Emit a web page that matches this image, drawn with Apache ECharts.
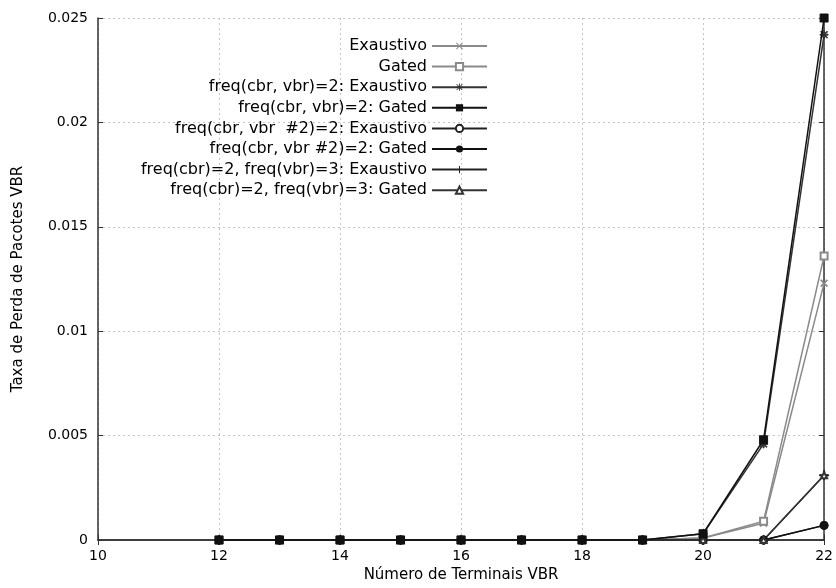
<!DOCTYPE html>
<html>
<head>
<meta charset="utf-8">
<script src="https://cdn.jsdelivr.net/npm/echarts@6/dist/echarts.min.js"></script>
<style>
  html, body { margin: 0; padding: 0; background: #fff; }
  #chart { width: 836px; height: 588px; }
</style>
</head>
<body>
<div id="chart"></div>
<script>
// dados
const terminais = [12, 13, 14, 15, 16, 17, 18, 19, 20, 21, 22];
const exaustivo = [0, 0, 0, 0, 0, 0, 0, 0, 0.0001, 0.0008, 0.0123];
const gated = [0, 0, 0, 0, 0, 0, 0, 0, 0.0001, 0.0009, 0.0136];
const freq2Exaustivo = [0, 0, 0, 0, 0, 0, 0, 0, 0.0003, 0.0046, 0.0242];
const freq2Gated = [0, 0, 0, 0, 0, 0, 0, 0, 0.0003, 0.0048, 0.025];
const vbr2Exaustivo = [0, 0, 0, 0, 0, 0, 0, 0, 0, 0, 0.0007];
const vbr2Gated = [0, 0, 0, 0, 0, 0, 0, 0, 0, 0, 0.0007];
const freq3Exaustivo = [0, 0, 0, 0, 0, 0, 0, 0, 0, 0, 0.0031];
const freq3Gated = [0, 0, 0, 0, 0, 0, 0, 0, 0, 0, 0.0031];

const nomes = [
  "Exaustivo",
  "Gated",
  "freq(cbr, vbr)=2: Exaustivo",
  "freq(cbr, vbr)=2: Gated",
  "freq(cbr, vbr  #2)=2: Exaustivo",
  "freq(cbr, vbr #2)=2: Gated",
  "freq(cbr)=2, freq(vbr)=3: Exaustivo",
  "freq(cbr)=2, freq(vbr)=3: Gated",
];

const FONT = "DejaVu Sans";
const xMark = "path://M0,1L1,0L5,4L9,0L10,1L6,5L10,9L9,10L5,6L1,10L0,9L4,5Z";
const plusMark = "path://M4.3,0H5.7V4.3H10V5.7H5.7V10H4.3V5.7H0V4.3H4.3Z";
const starMark =
  "path://M4.4,0H5.6V10H4.4Z M0,4.4H10V5.6H0Z M0.6,1.4L1.4,0.6L9.4,8.6L8.6,9.4Z M8.6,0.6L9.4,1.4L1.4,9.4L0.6,8.6Z";

function serie(nome, valores, cor, simbolo, tamanho, z) {
  return {
    name: nome,
    type: "line",
    data: terminais.map((t, i) => [t, valores[i]]),
    symbol: simbolo,
    symbolSize: tamanho,
    showAllSymbol: true,
    clip: false,
    z: z || 2,
    lineStyle: { color: cor, width: 1.5 },
    itemStyle: { color: cor, borderColor: cor },
    emphasis: { disabled: true },
  };
}

const chart = echarts.init(document.getElementById("chart"), null, { renderer: "canvas" });

chart.setOption({
  animation: false,
  backgroundColor: "#fff",
  textStyle: { fontFamily: FONT, color: "#000" },
  grid: { left: 98, right: 9, top: 18, bottom: 46 },
  legend: {
    orient: "vertical",
    right: 343,
    top: 33,
    align: "right",
    itemWidth: 55,
    itemHeight: 9,
    itemGap: 4.6,
    textStyle: { fontFamily: FONT, fontSize: 16, color: "#000" },
    data: nomes,
  },
  xAxis: [
    {
      type: "value",
      min: 10,
      max: 22,
      interval: 2,
      name: "Número de Terminais VBR",
      nameLocation: "middle",
      nameGap: 28,
      nameTextStyle: { fontFamily: FONT, fontSize: 15, color: "#000" },
      axisLine: { lineStyle: { color: "#333", width: 1.5 } },
      axisTick: { inside: true, length: 5, lineStyle: { color: "#333" } },
      axisLabel: { fontFamily: FONT, fontSize: 14, color: "#000", margin: 9 },
      splitLine: { show: true, lineStyle: { color: "#c4c4c4", type: [2, 3] } },
    },
    {
      type: "value",
      position: "top",
      min: 10,
      max: 22,
      interval: 2,
      axisLine: { lineStyle: { color: "#333", width: 1.5 } },
      axisTick: { inside: true, length: 5, lineStyle: { color: "#333" } },
      axisLabel: { show: false },
      splitLine: { show: false },
    },
  ],
  yAxis: [
    {
      type: "value",
      min: 0,
      max: 0.025,
      interval: 0.005,
      name: "Taxa de Perda de Pacotes VBR",
      nameLocation: "middle",
      nameGap: 72,
      nameTextStyle: { fontFamily: FONT, fontSize: 15, color: "#000" },
      axisLine: { show: true, lineStyle: { color: "#333", width: 1.5 } },
      axisTick: { show: true, inside: true, length: 5, lineStyle: { color: "#333" } },
      axisLabel: { fontFamily: FONT, fontSize: 14, color: "#000", margin: 10 },
      splitLine: { show: true, lineStyle: { color: "#c4c4c4", type: [2, 3] } },
    },
    {
      type: "value",
      position: "right",
      min: 0,
      max: 0.025,
      interval: 0.005,
      axisLine: { show: true, lineStyle: { color: "#333", width: 1.5 } },
      axisTick: { show: true, inside: true, length: 5, lineStyle: { color: "#333" } },
      axisLabel: { show: false },
      splitLine: { show: false },
    },
  ],
  series: [
    serie(nomes[0], exaustivo, "#8a8a8a", xMark, 7),
    serie(nomes[1], gated, "#8a8a8a", "emptyRect", 7),
    serie(nomes[2], freq2Exaustivo, "#333", starMark, 8),
    serie(nomes[3], freq2Gated, "#111", "rect", 8, 5),
    serie(nomes[4], vbr2Exaustivo, "#222", "emptyCircle", 7),
    serie(nomes[5], vbr2Gated, "#111", "circle", 8),
    serie(nomes[6], freq3Exaustivo, "#222", plusMark, 9),
    serie(nomes[7], freq3Gated, "#333", "emptyTriangle", 6),
  ],
});
</script>
</body>
</html>
